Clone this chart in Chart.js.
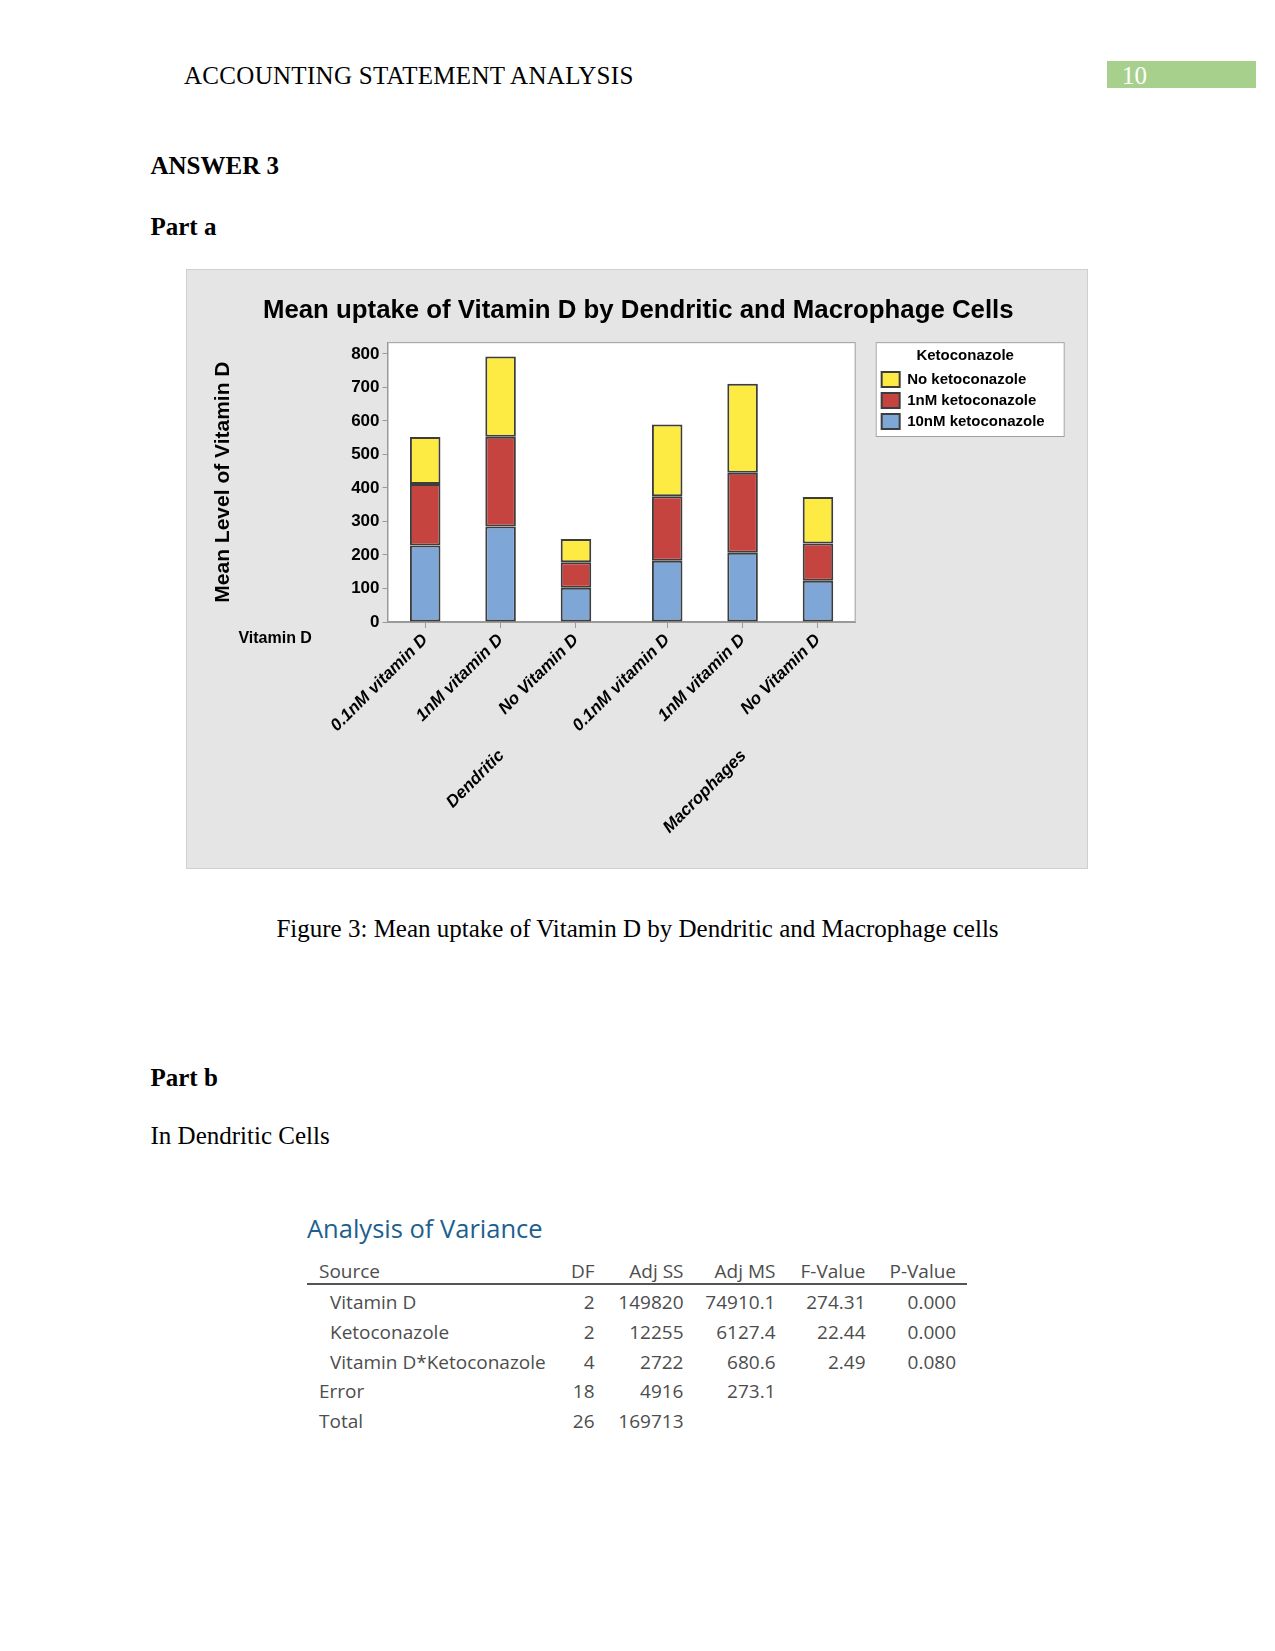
<!DOCTYPE html>
<html>
<head>
<meta charset="utf-8">
<script src="https://cdn.jsdelivr.net/npm/chart.js@4"></script>
<style>
  html, body { margin: 0; padding: 0; background: #fff; }
  body { width: 1275px; height: 1651px; position: relative; overflow: hidden;
         font-family: "Liberation Serif", "Times New Roman", serif; color: #000; }
  .t { position: absolute; font-size: 25px; line-height: 1; white-space: nowrap; }
  .b { font-weight: bold; }
  #pageNo { position: absolute; left: 1107px; top: 61px; width: 149px; height: 27px; background: #a8d08d; }
  #chartBox { position: absolute; left: 187px; top: 270px; width: 900px; height: 598px;
              background: #e5e5e5; outline: 1px solid #cfcfcf; }
  .av { position: absolute; font-family: "Open Sans", "Noto Sans", sans-serif; font-size: 19px;
        line-height: 1; color: #4d4d4d; white-space: nowrap; }
</style>
</head>
<body>

<div class="t" style="left:184px; top:63px; letter-spacing:0.3px;">ACCOUNTING STATEMENT ANALYSIS</div>
<div id="pageNo"></div>
<div class="t" style="left:1122px; top:63px; color:#fff;">10</div>

<div class="t b" style="left:150.5px; top:152.5px;">ANSWER 3</div>
<div class="t b" style="left:150.5px; top:214px;">Part a</div>

<div id="chartBox"><canvas id="vitChart"></canvas></div>

<div class="t" style="left:0; width:1275px; text-align:center; top:916px;">Figure 3: Mean uptake of Vitamin D by Dendritic and Macrophage cells</div>

<div class="t b" style="left:150.5px; top:1065px;">Part b</div>
<div class="t" style="left:150.5px; top:1122.5px;">In Dendritic Cells</div>

<div id="anova"></div>

<script>
// chart data
const vitaminLabels = ["0.1nM vitamin D", "1nM vitamin D", "No Vitamin D",
                       "0.1nM vitamin D", "1nM vitamin D", "No Vitamin D"];
const cellGroups  = ["Dendritic", "Macrophages"];
const groupOfBar  = [0, 0, 0, 1, 1, 1];
const keto10nM    = [228, 285, 102, 183, 207, 123];
const keto1nM     = [184, 268,  76, 192, 238, 111];
const ketoNone    = [140, 239,  70, 214, 266, 139];
const seriesNames = ["10nM ketoconazole", "1nM ketoconazole", "No ketoconazole"];

// anova table (text only)
const anovaHead = ["Source", "DF", "Adj SS", "Adj MS", "F-Value", "P-Value"];
const anovaRows = [
    ["Vitamin D",              "2",  "149820", "74910.1", "274.31", "0.000"],
    ["Ketoconazole",           "2",  "12255",  "6127.4",  "22.44",  "0.000"],
    ["Vitamin D*Ketoconazole", "4",  "2722",   "680.6",   "2.49",   "0.080"],
    ["Error",                  "18", "4916",   "273.1",   "",       ""],
    ["Total",                  "26", "169713", "",        "",       ""]
];

(() => {
    // ---- ANOVA block ----
    const host = document.getElementById("anova");
    const colRight = [594.5, 683.5, 775.5, 865.5, 956];
    const rowTops = [1293, 1322.5, 1352.5, 1382, 1411.5];

    const h = document.createElement("div");
    h.className = "av";
    h.style.cssText = "left:307px; top:1215.5px; font-size:25.5px; color:#1d5f8e;";
    h.textContent = "Analysis of Variance";
    host.appendChild(h);

    function cell(text, top, left, right) {
        const d = document.createElement("div");
        d.className = "av";
        d.style.top = top + "px";
        if (left != null) d.style.left = left + "px";
        else d.style.right = (1275 - right) + "px";
        d.textContent = text;
        host.appendChild(d);
    }

    anovaHead.forEach((txt, c) => {
        if (c === 0) cell(txt, 1261.5, 319);
        else cell(txt, 1261.5, null, colRight[c - 1]);
    });

    const rule = document.createElement("div");
    rule.style.cssText = "position:absolute; left:307px; top:1282.5px; width:660px; height:2px; background:#555;";
    host.appendChild(rule);

    anovaRows.forEach((row, r) => {
        const indent = r < 3 ? 330 : 319;
        row.forEach((txt, c) => {
            if (!txt) return;
            if (c === 0) cell(txt, rowTops[r], indent);
            else cell(txt, rowTops[r], null, colRight[c - 1]);
        });
    });

    // ---- chart ----
    const GROUP_GAP = 0.21;
    const xPos = vitaminLabels.map((_, i) => i + groupOfBar[i] * GROUP_GAP);
    const asPoints = vals => vals.map((v, i) => ({ x: xPos[i], y: v }));

    const FONT = "'Liberation Sans', Arial, sans-serif";
    Chart.defaults.font.family = FONT;
    Chart.defaults.color = "#000";

    const EDGE = "#3d3d3d";
    const AXIS = "#9a9a9a";

    const panelPlugin = {
        id: "panels",
        beforeDraw(chart) {
            const { ctx, chartArea: a, legend } = chart;
            ctx.save();
            // white plot area
            ctx.fillStyle = "#fff";
            ctx.fillRect(a.left, a.top, a.right - a.left, a.bottom - a.top);
            ctx.strokeStyle = AXIS;
            ctx.lineWidth = 1;
            ctx.strokeRect(a.left + 0.5, a.top + 0.5, a.right - a.left - 1, a.bottom - a.top - 1);
            // legend frame
            const hb = legend.legendHitBoxes;
            const last = hb[hb.length - 1];
            const lx = legend.left, ly = a.top;
            const lw = legend.width + 10;
            const lh = last.top + last.height + 8 - ly;
            ctx.fillStyle = "#fff";
            ctx.fillRect(lx, ly, lw, lh);
            ctx.strokeStyle = "#a0a0a0";
            ctx.strokeRect(lx + 0.5, ly + 0.5, lw - 1, lh - 1);
            ctx.restore();
        },
        afterDraw(chart) {
            const { ctx, scales } = chart;
            const sx = scales.x;
            ctx.save();
            ctx.fillStyle = "#000";
            // "Vitamin D" row caption
            ctx.font = "bold 16px " + FONT;
            ctx.textAlign = "left";
            ctx.textBaseline = "middle";
            ctx.fillText("Vitamin D", scales.y.left + 16.6, sx.top + 17);
            // cell-type group labels, rotated like the ticks
            ctx.font = "italic bold 17px " + FONT;
            ctx.textAlign = "right";
            cellGroups.forEach((name, g) => {
                const idx = groupOfBar.map((v, i) => v === g ? i : -1).filter(i => i >= 0);
                const mid = idx[Math.floor(idx.length / 2)];
                const px = sx.getPixelForValue(xPos[mid]);
                ctx.save();
                ctx.translate(px + 1, sx.top + 131);
                ctx.rotate(-Math.PI / 4);
                ctx.fillText(name, 0, 0);
                ctx.restore();
            });
            ctx.restore();
        }
    };

    const ds = (label, vals, color) => ({
        label,
        data: asPoints(vals),
        backgroundColor: color,
        borderColor: EDGE,
        borderWidth: 2,
        borderSkipped: false,
        barPercentage: 1,
        categoryPercentage: 0.405
    });

    new Chart(document.getElementById("vitChart"), {
        type: "bar",
        data: {
            datasets: [
                ds(seriesNames[0], keto10nM, "#7ea7d8"),
                ds(seriesNames[1], keto1nM,  "#c6443f"),
                ds(seriesNames[2], ketoNone, "#fdeb44")
            ]
        },
        options: {
            responsive: true,
            maintainAspectRatio: false,
            animation: false,
            layout: { padding: { left: 34.8, right: 32.3, top: 0, bottom: 0 } },
            plugins: {
                tooltip: { enabled: false },
                title: {
                    display: true,
                    text: "Mean uptake of Vitamin D by Dendritic and Macrophage Cells",
                    font: { size: 25.8, weight: "bold" },
                    color: "#000",
                    padding: { top: 25, bottom: 16.2 }
                },
                legend: {
                    position: "right",
                    align: "start",
                    reverse: true,
                    maxWidth: 400,
                    title: {
                        display: true,
                        text: "Ketoconazole",
                        position: "center",
                        color: "#000",
                        font: { size: 15, weight: "bold" },
                        padding: { top: 78, bottom: 0 }
                    },
                    labels: {
                        boxWidth: 18,
                        boxHeight: 15,
                        padding: 6,
                        color: "#000",
                        font: { size: 15, weight: "bold" }
                    }
                }
            },
            scales: {
                x: {
                    type: "linear",
                    stacked: true,
                    offset: false,
                    min: -0.5,
                    max: xPos[xPos.length - 1] + 0.5,
                    afterBuildTicks(axis) {
                        axis.ticks = xPos.map(v => ({ value: v }));
                    },
                    afterFit(axis) { axis.height = 246; },
                    ticks: {
                        autoSkip: false,
                        minRotation: 45,
                        maxRotation: 45,
                        padding: 2,
                        color: "#000",
                        font: { size: 17, weight: "bold", style: "italic" },
                        callback: (v, i) => vitaminLabels[i]
                    },
                    grid: { display: true, offset: false, drawOnChartArea: false, tickLength: 6, color: AXIS },
                    border: { display: true, color: AXIS }
                },
                y: {
                    stacked: true,
                    min: 0,
                    max: 835,
                    afterFit(axis) { axis.width = 165.7; },
                    ticks: {
                        stepSize: 100,
                        includeBounds: false,
                        padding: 3,
                        color: "#000",
                        font: { size: 17, weight: "bold" }
                    },
                    grid: { display: true, drawOnChartArea: false, tickLength: 5, color: AXIS },
                    border: { display: true, color: AXIS },
                    title: {
                        display: true,
                        text: "Mean Level of Vitamin D",
                        color: "#000",
                        font: { size: 21, weight: "bold" },
                        padding: { top: -11.4, bottom: 0 }
                    }
                },
                spacer: {
                    type: "linear",
                    position: "right",
                    display: true,
                    afterFit(axis) { axis.width = 20; },
                    ticks: { display: false },
                    grid: { display: false },
                    border: { display: false }
                }
            }
        },
        plugins: [panelPlugin]
    });
})();
</script>
</body>
</html>
